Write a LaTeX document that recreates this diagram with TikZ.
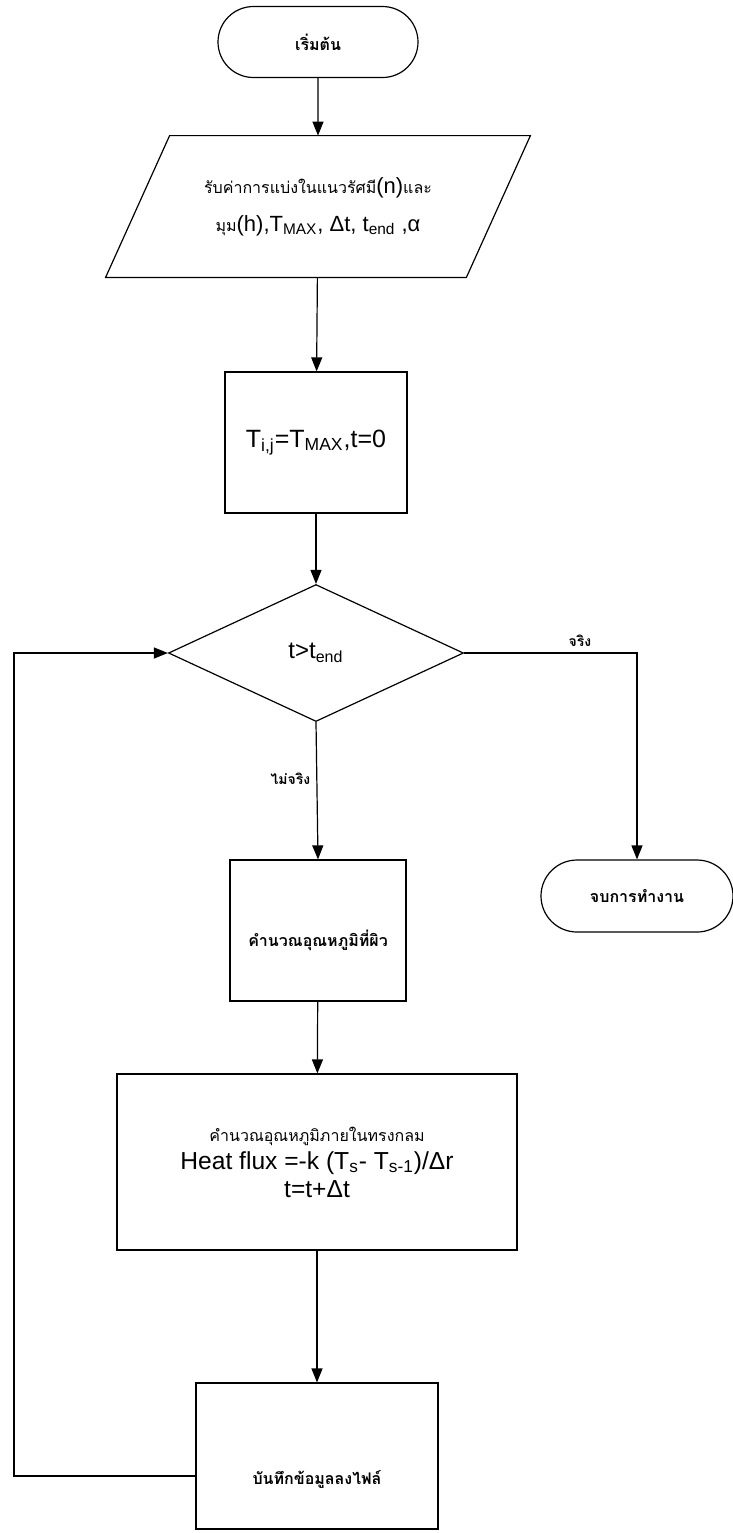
\documentclass[tikz,border=0pt]{standalone}
\usepackage{fontspec}
\setmainfont{Liberation Sans}
\newfontfamily\thai[Script=Thai]{Loma}
\usetikzlibrary{shapes.geometric,shapes.misc,arrows.meta}

\newcommand{\lsub}[1]{\textsubscript{#1}}
\newcommand{\thsmall}{\thai\fontsize{8}{10}\selectfont}
\newcommand{\thnorm}{\thai\bfseries\fontsize{8}{10}\selectfont}

\tikzset{
  base/.style={draw, line width=0.6pt, align=center, inner sep=2pt},
  terminal/.style={base, rounded rectangle, minimum height=35.5pt},
  iotext/.style={align=center, inner sep=0pt},
  process/.style={base, rectangle},
  decision/.style={base, diamond, inner sep=0pt},
  line/.style={line width=0.6pt},
  arrow/.style={line, -{Triangle[length=7pt,width=5.5pt]}},
  flag/.style={font=\thai\bfseries\fontsize{7}{9}\selectfont, inner sep=3pt},
}

\begin{document}
\begin{tikzpicture}[x=0.5pt,y=-0.5pt]
  \useasboundingbox (0,0) rectangle (733,1533);

  % shapes of the chart
  \node[terminal, minimum width=104pt, font=\thnorm] (start) at (318,42) {เริ่มต้น};
  \node[iotext, minimum width=180pt, minimum height=70.5pt,
    font=\fontsize{11}{19}\selectfont] (input) at (318,206.5)
    {{\thsmall รับค่าการแบ่งในแนวรัศมี}(n){\thsmall และ}\\
     {\thsmall มุม}(h),T\lsub{MAX}, Δt, t\lsub{end} ,α};
  \draw[line] ([xshift=16pt]input.north west) -- ([xshift=16pt]input.north east)
    -- ([xshift=-16pt]input.south east) -- ([xshift=-16pt]input.south west) -- cycle;
  \node[process, minimum width=91pt, minimum height=70.5pt,
    font=\fontsize{12.5}{14}\selectfont] (init) at (316,442.5)
    {T\lsub{i,j}=T\lsub{MAX},t=0};
  \node[decision, minimum width=147.5pt, minimum height=68.5pt,
    font=\fontsize{12}{14}\selectfont] (dec) at (316,653) {t>t\lsub{end}};
  \node[process, minimum width=88pt, minimum height=70.5pt, font=\thnorm,
    text height=18pt, text depth=2pt] (surf) at (318,930.5) {คำนวณอุณหภูมิที่ผิว};
  \node[terminal, minimum width=100pt, minimum height=36pt, font=\thnorm]
    (endt) at (637,896) {จบการทำงาน};
  \node[process, minimum width=200pt, minimum height=88pt,
    font=\fontsize{12.3}{14}\selectfont] (inner) at (317,1162)
    {{\thsmall คำนวณอุณหภูมิภายในทรงกลม}\\
     Heat flux =-k (T\lsub{s}- T\lsub{s-1})/Δr\\
     t=t+Δt};
  \node[process, minimum width=121pt, minimum height=73pt, font=\thnorm,
    text height=30pt, text depth=2pt] (save) at (317,1456) {บันทึกข้อมูลลงไฟล์};
  \coordinate (loop) at (14,653);

  % connectors
  \draw[arrow] (start) -- (input);
  \draw[arrow] (input) -- (init);
  \draw[arrow] (init) -- (dec);
  \draw[arrow] (dec.south) -- node[flag, left, pos=0.41] {ไม่จริง} (surf.north);
  \draw[arrow] (dec.east) -- node[flag, above, pos=0.67] {จริง} (dec.east -| endt.north)
    -- (endt.north);
  \draw[arrow] (surf) -- (inner);
  \draw[arrow] (inner) -- (save);
  \draw[arrow] ([yshift=-10pt]save.west) -| (loop) -- (dec.west);
\end{tikzpicture}
\end{document}
